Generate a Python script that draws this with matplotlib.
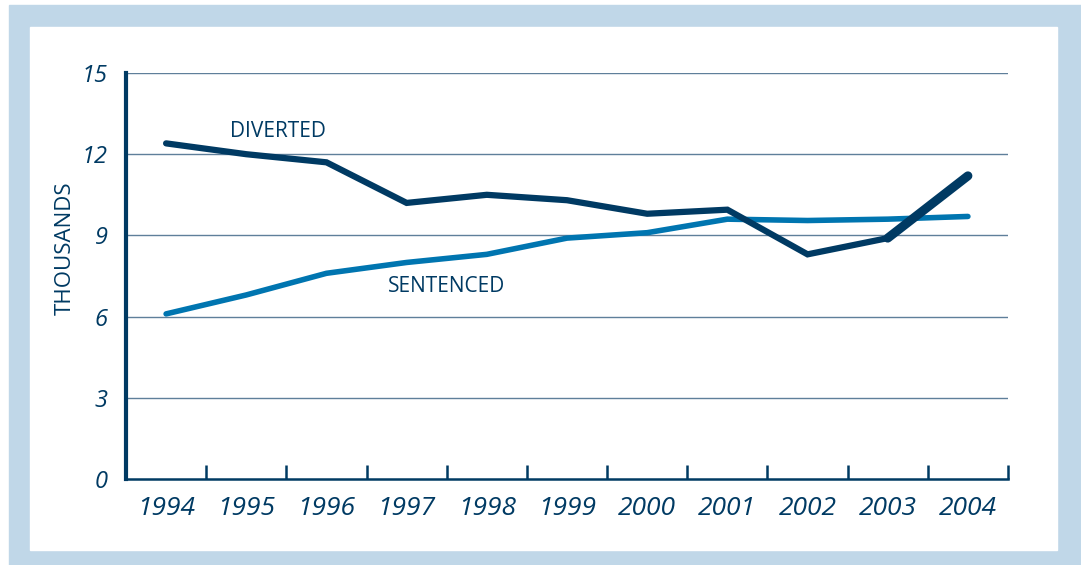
import numpy as np
import matplotlib.pyplot as plt
from matplotlib.patches import Rectangle

years = ['1994', '1995', '1996', '1997', '1998', '1999', '2000', '2001', '2002', '2003', '2004']
diverted = [12.4, 12.0, 11.7, 10.2, 10.5, 10.3, 9.8, 9.95, 8.3, 8.9, 11.2]
sentenced = [6.1, 6.8, 7.6, 8.0, 8.3, 8.9, 9.1, 9.6, 9.55, 9.6, 9.7]
yticks = [0, 3, 6, 9, 12, 15]

navy = '#003a63'
blue = '#0075b0'
grid = '#5f7f9a'
frame = '#c0d7e8'

W, H = 1081, 565
fig = plt.figure(figsize=(W / 100, H / 100), dpi=100)
fig.patches.append(Rectangle((9 / W, 0), 1, 560 / H, transform=fig.transFigure,
                             color=frame, zorder=-2))
fig.patches.append(Rectangle((30 / W, 15 / H), 1027 / W, 523 / H, transform=fig.transFigure,
                             color='white', zorder=-1))

ax = fig.add_axes([126 / W, 86 / H, 882 / W, 406 / H])
ax.patch.set_visible(False)

x = np.arange(len(years)) + 0.5
ax.plot(x, sentenced, color=blue, lw=4, solid_capstyle='round', solid_joinstyle='miter', zorder=3)
ax.plot(x, diverted, color=navy, lw=4.5, solid_capstyle='round', solid_joinstyle='miter', zorder=4)
ax.plot(x[-2:], diverted[-2:], color=navy, lw=6.5, solid_capstyle='round', zorder=4)

ax.set_xlim(0, len(years))
ax.set_ylim(0, 15)

for v in yticks[1:]:
    ax.axhline(v, color=grid, lw=1, zorder=1)

for s in ['top', 'right']:
    ax.spines[s].set_visible(False)
ax.spines['left'].set_color(navy)
ax.spines['left'].set_linewidth(3)
ax.spines['bottom'].set_color(navy)
ax.spines['bottom'].set_linewidth(1.8)

ax.set_yticks(yticks)
ax.set_yticklabels([str(v) for v in yticks], fontsize=17, style='italic',
                   color=navy, family='Open Sans')
ax.tick_params(axis='y', length=0, pad=13)

ax.set_xticks(np.arange(1, len(years) + 1))
ax.set_xticklabels([])
ax.tick_params(axis='x', which='major', direction='in', length=10, width=1.8, color=navy)
ax.set_xticks(x, minor=True)
ax.set_xticklabels(years, minor=True, fontsize=19, style='italic', color=navy, family='Open Sans')
ax.tick_params(axis='x', which='minor', length=0, pad=12)

fig.text(65 / W, 1 - 248 / H, 'THOUSANDS', rotation=90, ha='center', va='center',
         fontsize=16, color=navy, family='Open Sans')
ax.text(1.9, 12.85, 'DIVERTED', fontsize=15, color=navy, family='Open Sans',
        ha='center', va='center')
ax.text(4.0, 7.13, 'SENTENCED', fontsize=15, color=navy, family='Open Sans',
        ha='center', va='center')

fig.savefig('out.png', dpi=100)
